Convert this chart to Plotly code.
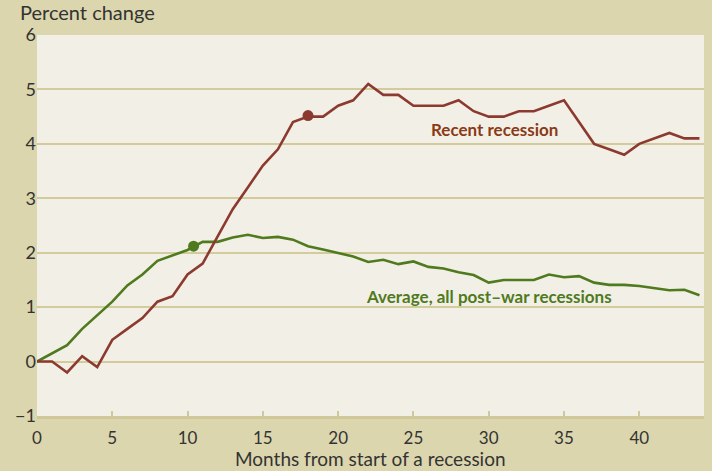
import plotly.graph_objects as go

months = list(range(0, 45))
recent = [0.0, 0.0, -0.2, 0.1, -0.1, 0.4, 0.6, 0.8, 1.1, 1.2,
          1.6, 1.8, 2.3, 2.8, 3.2, 3.6, 3.9, 4.4, 4.5, 4.5,
          4.7, 4.8, 5.1, 4.9, 4.9, 4.7, 4.7, 4.7, 4.8, 4.6,
          4.5, 4.5, 4.6, 4.6, 4.7, 4.8, 4.4, 4.0, 3.9, 3.8,
          4.0, 4.1, 4.2, 4.1, 4.1]
average = [0.0, 0.15, 0.3, 0.6, 0.85, 1.1, 1.4, 1.6, 1.85, 1.95,
           2.05, 2.2, 2.2, 2.28, 2.33, 2.27, 2.29, 2.24, 2.12, 2.06,
           2.0, 1.93, 1.83, 1.87, 1.79, 1.84, 1.74, 1.71, 1.64, 1.59,
           1.45, 1.5, 1.5, 1.5, 1.6, 1.55, 1.57, 1.45, 1.41, 1.41,
           1.39, 1.35, 1.31, 1.32, 1.22]
recent_marker_x = [18]
recent_marker_y = [4.52]
average_marker_x = [10.4]
average_marker_y = [2.12]

y_ticks = [-1, 0, 1, 2, 3, 4, 5, 6]
y_tick_labels = ["\u22121", "0", "1", "2", "3", "4", "5", "6"]
x_ticks = [0, 5, 10, 15, 20, 25, 30, 35, 40]
x_tick_labels = ["0", "5", "10", "15", "20", "25", "30", "35", "40"]

RED = "#8C3A2F"
GREEN = "#4F7A1E"
TAN = "#DCD6AE"
GRID = "#D4CB9D"
FONT = "Lato"

fig = go.Figure()
fig.add_trace(go.Scatter(x=months, y=average, mode="lines",
                         line=dict(color=GREEN, width=2.6), hoverinfo="skip"))
fig.add_trace(go.Scatter(x=months, y=recent, mode="lines",
                         line=dict(color=RED, width=2.6), hoverinfo="skip"))
fig.add_trace(go.Scatter(x=recent_marker_x, y=recent_marker_y, mode="markers",
                         marker=dict(color=RED, size=11), hoverinfo="skip"))
fig.add_trace(go.Scatter(x=average_marker_x, y=average_marker_y, mode="markers",
                         marker=dict(color=GREEN, size=11), hoverinfo="skip"))

fig.add_annotation(x=30.4, y=4.27, text="<b>Recent recession</b>", showarrow=False,
                   font=dict(family=FONT, size=17, color="#8B3A17"))
fig.add_annotation(x=30.0, y=1.2, text="<b>Average, all post\u2013war recessions</b>",
                   showarrow=False, font=dict(family=FONT, size=17, color=GREEN))
fig.add_annotation(xref="paper", yref="paper", x=-0.029, y=1.06,
                   xanchor="left", yanchor="middle", text="Percent change",
                   showarrow=False, font=dict(family=FONT, size=20, color="#333333"))
fig.add_annotation(xref="paper", yref="paper", x=0.5, y=-0.112,
                   xanchor="center", yanchor="middle",
                   text="Months from start of a recession",
                   showarrow=False, font=dict(family=FONT, size=19, color="#333333"))

fig.update_layout(
    width=712, height=471,
    margin=dict(l=37, r=8, t=35, b=55),
    paper_bgcolor=TAN,
    plot_bgcolor="#F2F0E6",
    showlegend=False,
    font=dict(family=FONT, color="#333333"),
    xaxis=dict(range=[0, 44.3], tickvals=x_ticks, ticktext=x_tick_labels,
               showgrid=False, zeroline=False, automargin=False,
               ticks="inside", ticklen=5, tickwidth=2, tickcolor="#D0C79A",
               showline=True, linecolor="#D0C79A", linewidth=3,
               tickfont=dict(family=FONT, size=17, color="#333333"),
               ticklabelstandoff=5),
    yaxis=dict(range=[-1, 6], tickvals=y_ticks, ticktext=y_tick_labels,
               showgrid=True, gridcolor=GRID, gridwidth=1.6,
               zeroline=False, showline=False, ticks="", automargin=False,
               tickfont=dict(family=FONT, size=18, color="#333333")),
)

fig.write_html("out.html", config={"displayModeBar": False},
               post_script="document.body.style.margin='0';document.body.style.overflow='hidden';")
